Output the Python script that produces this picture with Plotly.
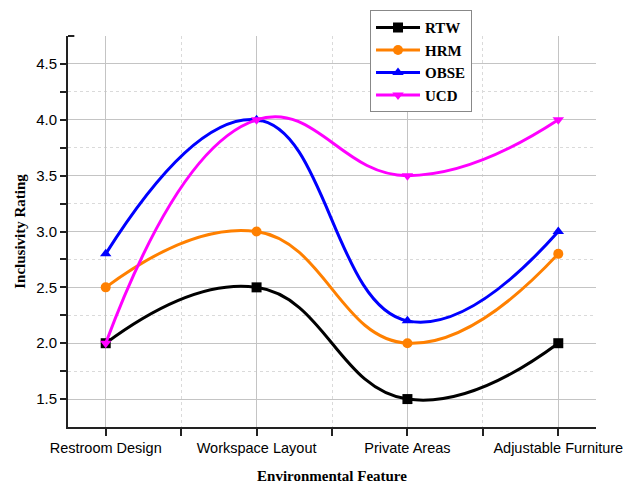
import plotly.graph_objects as go

# Environmental features rated for inclusivity
features = ["Restroom Design", "Workspace Layout", "Private Areas", "Adjustable Furniture"]

rtw = [2.0, 2.5, 1.5, 2.0]
hrm = [2.5, 3.0, 2.0, 2.8]
obse = [2.8, 4.0, 2.2, 3.0]
ucd = [2.0, 4.0, 3.5, 4.0]

series = [
    ("RTW", rtw, "#000000", "square"),
    ("HRM", hrm, "#FF8000", "circle"),
    ("OBSE", obse, "#0000FF", "triangle-up"),
    ("UCD", ucd, "#FF00FF", "triangle-down"),
]

xpos = list(range(len(features)))

fig = go.Figure()
for name, vals, color, symbol in series:
    fig.add_trace(go.Scatter(
        x=xpos, y=vals, name=f"<b>{name}</b>", legendgroup=name,
        mode="lines+markers",
        line=dict(color=color, width=3, shape="spline", smoothing=1.3),
        marker=dict(symbol=symbol, size=10, color=color),
    ))

fig.update_layout(
    width=623, height=486,
    margin=dict(l=68, r=27, t=36, b=59, autoexpand=False),
    plot_bgcolor="white", paper_bgcolor="white",
    legend=dict(
        x=0.572, y=1.066, xanchor="left", yanchor="top",
        bgcolor="white", bordercolor="#888888", borderwidth=1,
        tracegroupgap=0, itemwidth=44,
        font=dict(family="Liberation Serif", size=15, color="black"),
    ),
)

fig.update_xaxes(
    range=[-0.25, 3.25], automargin=False,
    tickmode="array", tickvals=xpos, ticktext=features,
    ticklabeloverflow="allow",
    tickfont=dict(family="Liberation Sans", size=14.5, color="black"),
    ticks="outside", ticklen=7, tickwidth=1.5, tickcolor="#222",
    showline=True, linecolor="#222", linewidth=2,
    showgrid=True, gridcolor="#c4c4c4", gridwidth=1,
    minor=dict(tickvals=[0.5, 1.5, 2.5], ticks="outside", ticklen=7, tickwidth=1.5,
               tickcolor="#222", showgrid=True, gridcolor="#dadada", griddash="dot"),
    zeroline=False,
    title=dict(text="<b>Environmental Feature</b>",
               font=dict(family="Liberation Serif", size=15, color="black"), standoff=15),
)

fig.update_yaxes(
    range=[1.25, 4.75], automargin=False,
    tickmode="array", tickvals=[1.5, 2.0, 2.5, 3.0, 3.5, 4.0, 4.5],
    ticktext=["1.5", "2.0", "2.5", "3.0", "3.5", "4.0", "4.5"],
    tickfont=dict(family="Liberation Sans", size=15, color="black"),
    ticks="outside", ticklen=6, tickwidth=1.5, tickcolor="#222",
    showline=True, linecolor="#222", linewidth=2,
    showgrid=True, gridcolor="#c4c4c4", gridwidth=1,
    minor=dict(tickvals=[1.75, 2.25, 2.75, 3.25, 3.75, 4.25], ticks="outside", ticklen=6,
               tickwidth=1.5, tickcolor="#222", showgrid=True, gridcolor="#dadada", griddash="dot"),
    zeroline=False,
    title=dict(text="<b>Inclusivity Rating</b>",
               font=dict(family="Liberation Serif", size=15, color="black"), standoff=7),
)

# short cap at the top of the y axis
fig.add_shape(type="line", xref="paper", yref="paper", x0=0, x1=0.012, y0=1, y1=1,
              line=dict(color="#222", width=2))

fig.write_html("out.html")
